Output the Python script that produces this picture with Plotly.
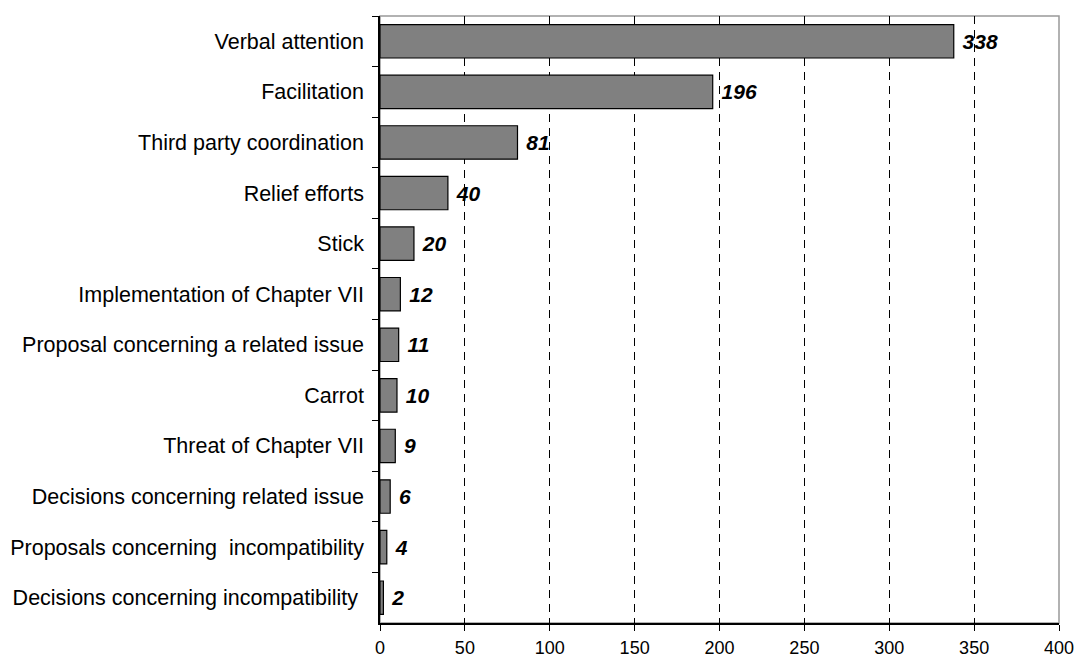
import plotly.graph_objects as go

categories = [
    "Verbal attention",
    "Facilitation",
    "Third party coordination",
    "Relief efforts",
    "Stick",
    "Implementation of Chapter VII",
    "Proposal concerning a related issue",
    "Carrot",
    "Threat of Chapter VII",
    "Decisions concerning related issue",
    "Proposals concerning\u00a0\u00a0incompatibility",
    "Decisions concerning incompatibility\u00a0",
]
values = [338, 196, 81, 40, 20, 12, 11, 10, 9, 6, 4, 2]
x_ticks = [0, 50, 100, 150, 200, 250, 300, 350, 400]

FONT = "Arial, Liberation Sans, sans-serif"

fig = go.Figure(
    go.Bar(
        x=values,
        y=categories,
        orientation="h",
        marker=dict(color="#808080", line=dict(color="black", width=1.2)),
        text=[f"\u00a0<b><i>{v}</i></b>" for v in values],
        textposition="outside",
        textfont=dict(family=FONT, size=21, color="black"),
        cliponaxis=False,
        hoverinfo="skip",
    )
)

fig.update_layout(
    width=1076,
    height=657,
    margin=dict(l=380, r=17, t=16, b=34, autoexpand=False),
    paper_bgcolor="white",
    plot_bgcolor="white",
    bargap=0.34,
    showlegend=False,
    font=dict(family=FONT, color="black"),
    shapes=[
        dict(
            type="rect", xref="paper", yref="paper", x0=0, x1=1, y0=0, y1=1,
            line=dict(color="#999999", width=1.5), layer="below",
        )
    ],
)

fig.update_xaxes(
    range=[0, 400],
    tickvals=x_ticks,
    ticks="outside",
    ticklen=6,
    tickcolor="black",
    showline=True,
    linecolor="black",
    linewidth=1.5,
    showgrid=True,
    gridcolor="black",
    gridwidth=1,
    griddash="8px,6px",
    zeroline=False,
    automargin=False,
    ticklabelstandoff=2,
    tickfont=dict(size=18, family=FONT, color="black"),
)

fig.update_yaxes(
    autorange="reversed",
    type="category",
    tickson="boundaries",
    ticks="outside",
    ticklen=6,
    tickcolor="black",
    showline=True,
    linecolor="black",
    linewidth=1.5,
    showgrid=False,
    automargin=False,
    ticklabelstandoff=10,
    tickfont=dict(size=21.5, family=FONT, color="black"),
)

fig.write_html("out.html")
